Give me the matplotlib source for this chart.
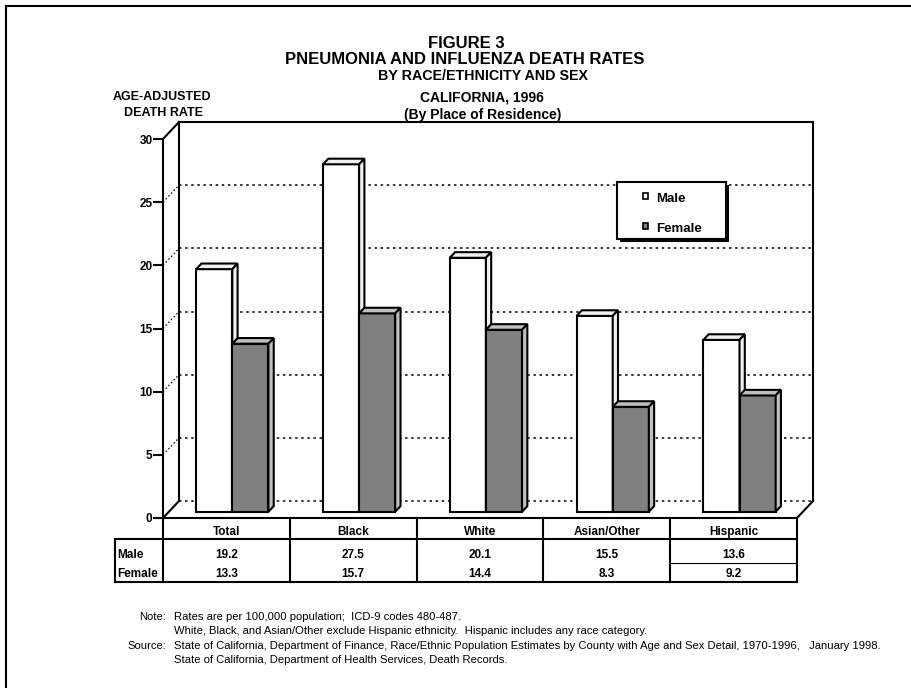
import matplotlib
matplotlib.use("Agg")
import matplotlib.pyplot as plt
from matplotlib.patches import Polygon, Rectangle
from matplotlib import transforms

# data
categories = ["Total", "Black", "White", "Asian/Other", "Hispanic"]
male = [19.2, 27.5, 20.1, 15.5, 13.6]
female = [13.3, 15.7, 14.4, 8.3, 9.2]
series_names = ["Male", "Female"]
yticks = [0, 5, 10, 15, 20, 25, 30]
ymax = 30

plt.rcParams["font.family"] = ["Liberation Sans", "DejaVu Sans"]

W, H = 911, 688
fig = plt.figure(figsize=(W / 100, H / 100), dpi=100)

# pixel overlay for page decoration and text
pix = fig.add_axes([0, 0, 1, 1])
pix.set_xlim(0, W)
pix.set_ylim(H, 0)
pix.axis("off")

# front plane of the 3-d box (pixels)
X0, X1, Y0, Y1 = 163, 797, 518, 139
ax = fig.add_axes([X0 / W, 1 - Y0 / H, (X1 - X0) / W, (Y0 - Y1) / H])
ax.set_xlim(0, len(categories))
ax.set_ylim(0, ymax)
ax.patch.set_visible(False)

# depth offset of back wall, converted to data units
ox = 16 / ((X1 - X0) / len(categories))
oy = 17 / ((Y0 - Y1) / ymax)


def P(x, y, z):
    return x + z * ox, y + z * oy


LW = 1.5
n = len(categories)

# box outline
for a, b in [((0, ymax, 1), (n, ymax, 1)), ((n, 0, 1), (n, ymax, 1)),
             ((0, 0, 1), (0, ymax, 1)), ((0, ymax, 0), (0, ymax, 1)),
             ((0, 0, 0), (0, 0, 1)), ((n, 0, 0), (n, 0, 1))]:
    p, q = P(*a), P(*b)
    ax.plot([p[0], q[0]], [p[1], q[1]], color="black", lw=LW, clip_on=False,
            solid_capstyle="projecting", zorder=2)

# gridlines on back wall and side wall
for v in yticks[:-1]:
    p, q = P(0, v, 1), P(n, v, 1)
    ax.plot([p[0], q[0]], [p[1], q[1]], color="black", lw=1.1,
            dashes=(1.6, 2.4), clip_on=False, zorder=1)
    if v > 0:
        p, q = P(0, v, 0), P(0, v, 1)
        ax.plot([p[0], q[0]], [p[1], q[1]], color="black", lw=0.8,
                dashes=(1.5, 2), clip_on=False, zorder=1)

# bars
bw = 0.285
z0, z1 = 0.37, 0.70
styles = [("white", "#f0f0f0"), ("#808080", "#c0c0c0")]
for i in range(n):
    for j, vals in enumerate([male, female]):
        front, shade = styles[j]
        xl = i + 0.5 - bw + j * bw
        xr = xl + bw
        v = vals[i]
        faces = [
            ([P(xl, 0, z0), P(xr, 0, z0), P(xr, v, z0), P(xl, v, z0)], front),
            ([P(xl, v, z0), P(xr, v, z0), P(xr, v, z1), P(xl, v, z1)], shade),
            ([P(xr, 0, z0), P(xr, 0, z1), P(xr, v, z1), P(xr, v, z0)], shade),
        ]
        for pts, c in faces:
            ax.add_patch(Polygon(pts, closed=True, facecolor=c, edgecolor="black",
                                 lw=LW, joinstyle="miter", clip_on=False, zorder=3 + j))

# axes
for s in ["top", "right"]:
    ax.spines[s].set_visible(False)
ax.spines["left"].set_linewidth(LW)
ax.spines["bottom"].set_linewidth(LW)
ax.set_xticks([])
ax.set_yticks(yticks)
ax.set_yticklabels([str(t) for t in yticks], fontsize=8.5, fontweight="bold")
ax.tick_params(axis="y", direction="out", length=7, width=LW, pad=0.5)

# data table under the chart (x in categories, y in pixels)
tb = transforms.blended_transform_factory(ax.transData, pix.transData)
row_top, row_mid, row_bot = 539, 562.7, 582
for k in range(n + 1):
    ax.plot([k, k], [Y0, row_bot], color="black", lw=LW, transform=tb, clip_on=False)
ax.plot([0, n], [row_top, row_top], color="black", lw=LW, transform=tb, clip_on=False)
ax.plot([0, n], [row_bot, row_bot], color="black", lw=LW, transform=tb, clip_on=False)
ax.plot([n - 1, n - 0.015], [row_mid, row_mid], color="black", lw=0.8, transform=tb,
        clip_on=False)
pix.plot([115, X0], [row_top, row_top], color="black", lw=LW)
pix.plot([115, X0], [row_bot, row_bot], color="black", lw=LW)
pix.plot([115, 115], [row_top, row_bot], color="black", lw=LW)

for i, c in enumerate(categories):
    ax.text(i + 0.5, 532, c, transform=tb, ha="center", va="center",
            fontsize=8.5, fontweight="bold")
    ax.text(i + 0.5, 555, f"{male[i]:.1f}", transform=tb, ha="center", va="center",
            fontsize=8.5, fontweight="bold")
    ax.text(i + 0.5, 574, f"{female[i]:.1f}", transform=tb, ha="center", va="center",
            fontsize=8.5, fontweight="bold")
pix.text(117, 555, series_names[0], ha="left", va="center", fontsize=8.5, fontweight="bold")
pix.text(117, 574, series_names[1], ha="left", va="center", fontsize=8.5, fontweight="bold")

# legend
lg = fig.add_axes([0, 0, 1, 1])
lg.set_xlim(0, W)
lg.set_ylim(H, 0)
lg.axis("off")
lg.add_patch(Rectangle((620, 185), 109, 57, facecolor="black", edgecolor="none"))
lg.add_patch(Rectangle((617, 182), 109, 57, facecolor="white", edgecolor="black", lw=LW))
for j, (name, yy) in enumerate(zip(series_names, [199, 229])):
    lg.add_patch(Rectangle((643, yy - 6), 5, 6, facecolor=styles[j][0],
                           edgecolor="black", lw=1.2))
    lg.text(656, yy, name, ha="left", va="center", fontsize=9.5, fontweight="bold")

# page frame
pix.plot([6, W], [6, 6], color="black", lw=LW)
pix.plot([6, 6], [6, H], color="black", lw=LW)

# titles
pix.text(466, 43, "FIGURE 3", ha="center", va="center", fontsize=12, fontweight="bold")
pix.text(465, 60, "PNEUMONIA AND INFLUENZA DEATH RATES", ha="center", va="center",
         fontsize=12, fontweight="bold")
pix.text(483, 76, "BY RACE/ETHNICITY AND SEX", ha="center", va="center",
         fontsize=10.3, fontweight="bold")
pix.text(482, 98, "CALIFORNIA, 1996", ha="center", va="center",
         fontsize=10, fontweight="bold")
pix.text(483, 115, "(By Place of Residence)", ha="center", va="center",
         fontsize=10, fontweight="bold")
pix.text(162, 97, "AGE-ADJUSTED", ha="center", va="center", fontsize=9, fontweight="bold")
pix.text(163, 113, "DEATH RATE", ha="center", va="center", fontsize=9, fontweight="bold")

# notes
notes = [
    ("Note:", "Rates are per 100,000 population;  ICD-9 codes 480-487."),
    ("", "White, Black, and Asian/Other exclude Hispanic ethnicity.  Hispanic includes any race category."),
    ("Source:", "State of California, Department of Finance, Race/Ethnic Population Estimates by County with Age and Sex Detail, 1970-1996,   January 1998."),
    ("", "State of California, Department of Health Services, Death Records."),
]
for k, (lab, body) in enumerate(notes):
    yy = 617 + k * 14.3
    if lab:
        pix.text(166, yy, lab, ha="right", va="center", fontsize=8.15)
    pix.text(174, yy, body, ha="left", va="center", fontsize=8.15)

fig.savefig("out.png", dpi=100)
